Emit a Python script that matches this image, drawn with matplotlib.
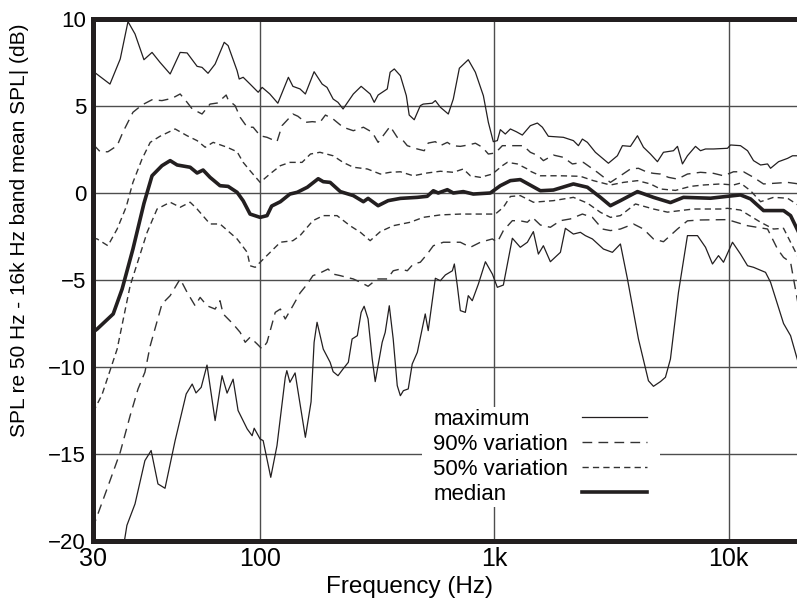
import numpy as np
import matplotlib
matplotlib.use("Agg")
import matplotlib.pyplot as plt

# (frequency Hz, dB), one list per curve
max_hi = [(30.0, 7.0), (33.9, 6.26), (36.5, 7.7), (38.6, 9.85), (40.6, 9.14), (43.3, 7.66), (45.9, 8.08),
          (48.6, 7.51), (52.3, 6.84), (56.2, 8.08), (59.1, 8.05), (63.5, 7.28), (65.8, 7.22), (68.7, 6.88),
          (72.3, 7.41), (77.2, 8.66), (79.4, 8.47), (84.7, 7.03), (86.0, 6.55), (88.5, 6.65), (93.0, 6.26),
          (98.6, 5.79), (102, 6.07), (110, 5.69), (119, 5.16), (132, 6.65), (138, 6.13), (148, 5.98),
          (156, 5.69), (170, 6.97), (184, 6.26), (193, 6.07), (205, 5.40), (215, 5.21), (226, 4.83),
          (250, 5.69), (270, 6.13), (295, 5.69), (307, 5.21), (319, 5.63), (349, 5.98), (359, 6.94),
          (374, 7.13), (397, 6.74), (421, 5.59), (433, 4.48), (455, 4.21), (483, 5.02), (497, 5.11),
          (543, 5.16), (560, 5.31), (588, 4.93), (636, 4.54), (668, 5.40), (709, 7.17), (774, 7.66),
          (830, 6.94), (898, 5.59), (943, 4.06), (990, 2.95), (1030, 3.01), (1061, 3.64), (1114, 3.39),
          (1171, 3.68), (1242, 3.52), (1317, 3.33), (1425, 3.87), (1527, 4.02), (1604, 3.78), (1701, 3.26),
          (1972, 3.20), (2176, 3.01), (2286, 2.72), (2377, 3.10), (2497, 2.91), (2701, 2.34), (3070, 1.71),
          (3353, 2.14), (3524, 2.72), (3813, 2.68), (4085, 3.29), (4333, 2.63), (4642, 2.24), (4972, 1.80),
          (5275, 2.34), (5821, 2.43), (6055, 2.68), (6359, 1.67), (6678, 2.14), (7228, 2.68), (7593, 2.43),
          (7977, 2.53), (8630, 2.53), (9902, 2.57), (10200, 2.76), (11250, 2.72), (12060, 2.43),
          (12790, 1.86), (13710, 1.61), (14680, 1.67), (15120, 1.42), (16360, 1.80), (17870, 1.99),
          (18770, 2.14), (20000, 2.14)]

p90_hi = [(30.0, 2.8), (31.6, 2.37), (33.4, 2.37), (35.7, 2.72), (37.2, 3.49), (40.0, 4.64), (42.7, 5.06),
          (45.9, 5.36), (49.3, 5.31), (53.0, 5.44), (56.2, 5.69), (59.1, 5.21), (61.3, 4.83), (65.8, 4.54),
          (69.7, 5.11), (73.4, 5.17), (78.3, 5.63), (79.4, 5.36), (83.5, 5.02), (86.6, 4.35), (91.1, 3.78),
          (95.1, 3.78), (100, 3.29), (107, 3.20), (118, 2.95), (124, 3.87), (138, 4.54), (145, 4.41),
          (156, 4.06), (167, 4.1), (180, 4.06), (190, 4.48), (205, 4.25), (226, 3.78), (250, 3.58),
          (276, 3.78), (301, 3.49), (319, 2.91), (335, 3.29), (359, 3.83), (385, 3.20), (408, 3.01),
          (425, 2.72), (469, 2.53), (502, 2.43), (522, 2.87), (560, 2.95), (588, 2.72), (630, 2.91),
          (661, 2.72), (716, 2.68), (774, 2.76), (830, 2.86), (889, 2.63), (943, 2.24), (1010, 2.30),
          (1082, 2.72), (1242, 2.72), (1330, 2.72), (1425, 2.34), (1542, 2.14), (1620, 1.86), (1787, 2.18),
          (1972, 2.05), (2154, 1.67), (2400, 1.76), (2755, 1.19), (3131, 0.61), (3455, 0.99), (3813, 1.38),
          (4125, 1.42), (4506, 1.19), (4781, 1.13), (5121, 1.09), (5540, 0.90), (6055, 0.80), (6678, 1.09),
          (7593, 1.19), (8630, 1.13), (9520, 0.99), (10500, 1.22), (11590, 1.22), (12790, 0.90),
          (14110, 0.52), (16190, 0.57), (17870, 0.61), (20000, 0.52)]

p50_hi = [(30.0, -2.6), (30.9, -2.64), (33.4, -3.03), (35.7, -2.07), (38.1, -0.8), (40.0, 0.61), (42.7, 1.95),
          (45.3, 2.91), (48.6, 3.26), (54.2, 3.68), (59.1, 3.29), (63.5, 3.01), (67.3, 2.63), (71.3, 2.91),
          (78.8, 2.63), (84.7, 2.37), (88.5, 1.76), (93.0, 1.28), (100, 0.61), (110, 1.09), (122, 1.57),
          (134, 1.76), (151, 1.76), (164, 2.24), (180, 2.34), (205, 2.14), (226, 1.76), (250, 1.48),
          (287, 1.38), (326, 1.09), (359, 1.19), (397, 1.22), (451, 0.99), (517, 1.15), (588, 1.25),
          (668, 1.19), (737, 1.38), (790, 0.99), (872, 0.90), (981, 1.09), (1082, 1.57), (1136, 1.76),
          (1254, 1.67), (1384, 1.38), (1425, 1.25), (1573, 0.99), (1915, 0.99), (2331, 0.96), (2649, 0.71),
          (3131, 0.46), (3559, 0.61), (4085, 0.71), (4642, 0.52), (5121, 0.23), (5938, 0.15), (6879, 0.38),
          (7822, 0.46), (9244, 0.52), (10500, 0.46), (11250, 0.57), (12420, 0.13), (13710, -0.50),
          (15570, -0.25), (17870, -0.30), (20000, -0.73)]

median = [(30.0, -8.0), (30.9, -7.82), (34.7, -6.95), (37.0, -5.52), (40.0, -3.22), (43.3, -0.6), (45.9, 0.99),
          (49.3, 1.57), (52.3, 1.86), (55.0, 1.61), (60.4, 1.48), (63.5, 1.15), (66.3, 1.32), (69.7, 0.90),
          (74.9, 0.42), (79.4, 0.38), (84.7, 0.04), (88.5, -0.45), (93.0, -1.21), (100, -1.40), (107, -1.30),
          (112, -0.75), (122, -0.5), (134, -0.06), (144, 0.04), (159, 0.33), (177, 0.82), (186, 0.65),
          (199, 0.61), (220, 0.08), (250, -0.15), (276, -0.50), (289, -0.31), (319, -0.73), (352, -0.44),
          (397, -0.31), (469, -0.25), (517, -0.19), (549, 0.13), (576, 0.0), (630, 0.19), (668, 0.0),
          (737, 0.08), (813, -0.06), (961, 0.0), (1061, 0.42), (1171, 0.71), (1291, 0.77), (1425, 0.45),
          (1573, 0.13), (1787, 0.17), (2176, 0.52), (2497, 0.33), (2838, -0.25), (3131, -0.73), (3455, -0.44),
          (4085, 0.08), (4781, -0.25), (5650, -0.55), (6422, -0.25), (8377, -0.30), (9902, -0.19),
          (11250, -0.11), (12420, -0.34), (14110, -1.01), (17180, -1.01), (18410, -1.30), (20000, -2.3)]

p50_lo = [(30.0, -12.6), (32.0, -11.6), (35.7, -8.97), (39.2, -5.33), (44.3, -2.26), (47.6, -0.92), (52.3, -0.53),
          (56.2, -0.82), (60.4, -0.53), (63.5, -0.92), (69.7, -1.78), (74.9, -1.78), (84.7, -2.64), (91.1, -3.41),
          (93.0, -4.18), (96.5, -4.27), (100, -3.98), (122, -2.83), (138, -2.74), (148, -2.45), (168, -1.59),
          (186, -1.30), (213, -1.30), (242, -1.88), (268, -2.26), (295, -2.74), (326, -2.22), (370, -1.88),
          (438, -1.68), (497, -1.40), (588, -1.26), (716, -1.21), (872, -1.21), (1010, -1.21), (1093, -0.82),
          (1171, -0.2), (1291, -0.15), (1468, -0.53), (1787, -0.44), (2176, -0.25), (2497, -0.58),
          (2838, -1.11), (3131, -1.40), (3455, -1.30), (4006, -0.63), (4781, -0.92), (5486, -1.10),
          (6236, -1.01), (7086, -0.92), (9244, -0.92), (9902, -0.88), (11250, -0.98), (13710, -1.68),
          (15570, -2.07), (17180, -2.03), (18410, -2.83), (20000, -3.79)]

p90_lo = [(30.0, -19.3), (30.4, -18.93), (33.2, -17.0), (36.5, -14.9), (39.2, -12.8), (41.5, -11.26), (43.6, -10.3),
          (45.3, -8.78), (49.3, -6.38), (52.3, -5.90), (56.2, -4.94), (59.1, -5.71), (62.6, -6.48), (64.9, -6.00),
          (68.2, -6.48), (72.3, -6.67), (74.9, -6.19), (76.6, -6.95), (82.3, -7.53), (86.6, -8.01), (89.8, -8.58),
          (93.0, -8.29), (97.9, -8.68), (102, -8.97), (107, -8.58), (116, -6.86), (122, -6.67), (128, -7.24),
          (138, -6.48), (148, -5.75), (159, -5.23), (168, -4.75), (180, -4.60), (195, -4.37), (205, -4.66),
          (220, -4.75), (235, -4.85), (250, -4.94), (268, -5.13), (289, -5.36), (316, -4.94), (349, -4.94),
          (370, -4.47), (397, -4.37), (425, -4.47), (451, -4.08), (483, -3.98), (517, -3.51), (549, -3.03),
          (606, -2.83), (716, -2.83), (790, -3.12), (872, -2.83), (981, -2.64), (1030, -2.83), (1093, -2.16),
          (1194, -1.59), (1291, -1.60), (1384, -1.68), (1454, -1.40), (1573, -1.84), (1735, -1.97),
          (1915, -1.59), (2112, -1.49), (2377, -1.21), (2623, -1.40), (2894, -2.07), (3131, -2.16),
          (3455, -2.07), (3927, -1.78), (4333, -2.07), (4781, -2.64), (5275, -2.80), (6055, -2.07),
          (6678, -1.60), (7593, -1.55), (9902, -1.53), (12060, -1.88), (14680, -2.07), (16190, -3.22),
          (17180, -3.70), (18410, -3.98), (20000, -6.67)]

max_lo = [(36.5, -21.5), (38.3, -19.1), (40.6, -17.87), (43.6, -15.38), (45.6, -14.8), (47.9, -16.72), (50.4, -16.97),
          (54.2, -14.23), (58.7, -11.55), (61.3, -10.98), (63.0, -11.49), (65.4, -11.17), (68.2, -9.89),
          (72.3, -13.08), (76.0, -10.5), (78.8, -11.5), (82.3, -10.7), (85.3, -12.5), (91.1, -13.56),
          (94.4, -13.95), (95.8, -13.52), (100, -14.14), (103, -14.23), (111, -16.34), (118, -14.52),
          (128, -10.6), (130, -10.21), (134, -10.88), (141, -10.34), (156, -14.04), (165, -12.0), (170, -8.58),
          (175, -7.43), (186, -8.97), (199, -9.73), (205, -10.27), (215, -10.50), (226, -10.11), (238, -9.73),
          (247, -8.39), (260, -8.20), (270, -6.86), (278, -6.51), (289, -7.24), (301, -9.54), (310, -10.84),
          (332, -8.58), (342, -8.01), (356, -6.48), (370, -8.39), (385, -11.07), (397, -11.65), (409, -11.36),
          (429, -11.26), (446, -9.83), (469, -9.16), (507, -6.95), (522, -7.91), (560, -4.90), (588, -5.04),
          (618, -4.71), (662, -4.47), (675, -4.08), (695, -5.33), (716, -6.76), (752, -6.86), (774, -5.90),
          (805, -6.19), (855, -5.23), (916, -3.95), (981, -4.66), (1030, -5.42), (1093, -5.29), (1194, -2.60),
          (1291, -3.12), (1384, -2.83), (1468, -2.22), (1542, -3.51), (1620, -3.03), (1735, -3.95),
          (1915, -3.41), (2011, -2.03), (2176, -2.36), (2331, -2.26), (2448, -2.45), (2623, -2.64),
          (2923, -3.22), (3193, -3.41), (3455, -2.93), (3702, -4.94), (4125, -8.39), (4551, -10.79),
          (4781, -11.11), (5121, -10.84), (5379, -10.59), (5650, -9.54), (6114, -5.71), (6678, -2.45),
          (7372, -2.45), (7977, -3.12), (8543, -4.08), (9063, -3.60), (9520, -3.98), (10400, -2.83),
          (11250, -3.51), (12060, -4.18), (12790, -4.27), (14390, -4.56), (15120, -5.13), (17180, -7.5),
          (18410, -8.2), (20000, -9.9)]

x_ticks = [30, 100, 1000, 10000]
x_ticklabels = ["30", "100", "1k", "10k"]
y_ticks = [-20, -15, -10, -5, 0, 5, 10]
labels = ["maximum", "90% variation", "50% variation", "median"]

# the printed axis is stretched below 100 Hz (30..100 takes ~0.71 decade)
K = 1.365


def fwd(f):
    lf = np.log10(np.clip(f, 1e-6, None))
    return np.where(lf >= 2, lf, 2 - (2 - lf) * K)


def inv(u):
    return np.where(u >= 2, 10.0 ** u, 10.0 ** (2 - (2 - u) / K))


narrow = ["Liberation Sans Narrow", "Liberation Sans", "DejaVu Sans"]
plain = ["Liberation Sans", "DejaVu Sans"]
ink = "#231f20"

fig = plt.figure(figsize=(7.97, 6.04), dpi=100)
ax = fig.add_axes([93 / 797, 63 / 604, 706 / 797, 522 / 604])
ax.set_xscale("function", functions=(fwd, inv))
ax.set_xlim(30, 20000)
ax.set_ylim(-20, 10)

thin = dict(color=ink, lw=0.9)
l_max, = ax.plot(*np.array(max_hi).T, **thin)
ax.plot(*np.array(max_lo).T, **thin)
d90 = dict(color="#333333", lw=1.0, ls=(0, (7, 4.5)))
l_90, = ax.plot(*np.array(p90_hi).T, **d90)
ax.plot(*np.array(p90_lo).T, **d90)
d50 = dict(color="#333333", lw=1.0, ls=(0, (4.5, 3)))
l_50, = ax.plot(*np.array(p50_hi).T, **d50)
ax.plot(*np.array(p50_lo).T, **d50)
l_med, = ax.plot(*np.array(median).T, color=ink, lw=2.6)

ax.set_xticks(x_ticks)
ax.set_xticklabels(x_ticklabels)
ax.set_yticks(y_ticks)
ax.grid(True, color="#4d4d4d", lw=1.0)
ax.set_axisbelow(True)
ax.tick_params(length=0)
ax.tick_params(axis="y", pad=5, labelsize=16)
ax.tick_params(axis="x", pad=4, labelsize=18)
for t in ax.get_xticklabels():
    t.set_family(narrow)
for t in ax.get_yticklabels():
    t.set_family(plain)

for s in ["left", "bottom", "top"]:
    ax.spines[s].set_linewidth(3.6)
    ax.spines[s].set_color(ink)
ax.spines["right"].set_visible(False)

ax.set_xlabel("Frequency (Hz)", fontsize=17.5, family=narrow)
ax.xaxis.set_label_coords(0.448, -0.067)
ax.set_ylabel("SPL re 50 Hz - 16k Hz band mean SPL| (dB)", fontsize=15, family=plain)
ax.yaxis.set_label_coords(-0.09, 0.596)

handles = [l_max, l_90, l_50, l_med]
prop = dict(family=plain, size=16)
# labels block, white background covering the grid
leg_a = ax.legend(handles, labels, loc="upper left",
                  bbox_to_anchor=(422 / 797, 87 / 604, 238 / 797, 110 / 604),
                  bbox_transform=fig.transFigure, mode="expand", prop=prop,
                  handlelength=0, handletextpad=0.4, borderpad=0.1, borderaxespad=0,
                  labelspacing=0.17, frameon=True, fancybox=False, framealpha=1,
                  facecolor="white", edgecolor="none")
ax.add_artist(leg_a)
# line samples aligned on the right
ax.legend(handles, [""] * 4, loc="upper right",
          bbox_to_anchor=(660 / 797, 197 / 604), bbox_transform=fig.transFigure,
          prop=prop, handlelength=2.9, handletextpad=0.5, borderpad=0.1,
          borderaxespad=0, labelspacing=0.17, frameon=False)

fig.savefig("out.png", dpi=100)
